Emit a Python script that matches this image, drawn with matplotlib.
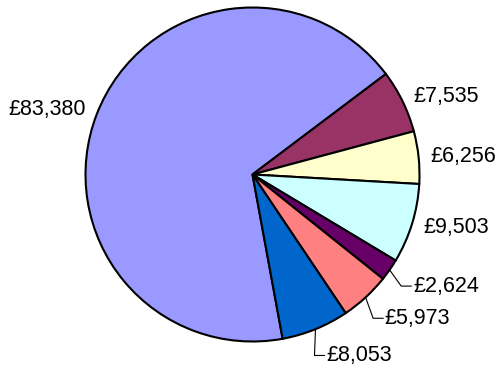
import numpy as np
import matplotlib
matplotlib.use("Agg")
import matplotlib.pyplot as plt

values = [83380, 7535, 6256, 9503, 2624, 5973, 8053]
labels = ["£83,380", "£7,535", "£6,256", "£9,503", "£2,624", "£5,973", "£8,053"]
colors = ["#9999FF", "#993366", "#FFFFCC", "#CCFFFF", "#660066", "#FF8080", "#0066CC"]

plt.rcParams['font.family'] = ['Liberation Sans', 'DejaVu Sans']

W, H = 495, 365
R = 167.0                 # pie radius in px
cx, cy = 252.5, 190.5     # centre in px from bottom-left

fig = plt.figure(figsize=(W / 100, H / 100), dpi=100)
ax = fig.add_axes([0, 0, 1, 1])

# big slice ends at 37 deg, drawn clockwise
start = 37 + 360 * values[0] / sum(values)
wedges, _ = ax.pie(values, colors=colors, startangle=start, counterclock=False,
                   radius=1, wedgeprops=dict(edgecolor='black', linewidth=1.5))

ax.set_xlim(-cx / R, (W - cx) / R)
ax.set_ylim(-cy / R, (H - cy) / R)
ax.set_aspect('equal')
ax.axis('off')

leader = [False, False, False, False, True, True, True]
for w, lab, ld in zip(wedges, labels, leader):
    mid = np.deg2rad((w.theta1 + w.theta2) / 2)
    r = 1.17 if ld else 1.07
    tx, ty = r * np.cos(mid), r * np.sin(mid)
    ha = 'left' if np.cos(mid) > 0 else 'right'
    ax.text(tx, ty, lab, ha=ha, va='center', fontsize=15.5)
    if ld:
        ex, ey = np.cos(mid), np.sin(mid)
        ax.plot([ex, tx - 0.07, tx - 0.01], [ey, ty, ty], color='black', lw=0.8)

fig.savefig("out.png", dpi=100)
